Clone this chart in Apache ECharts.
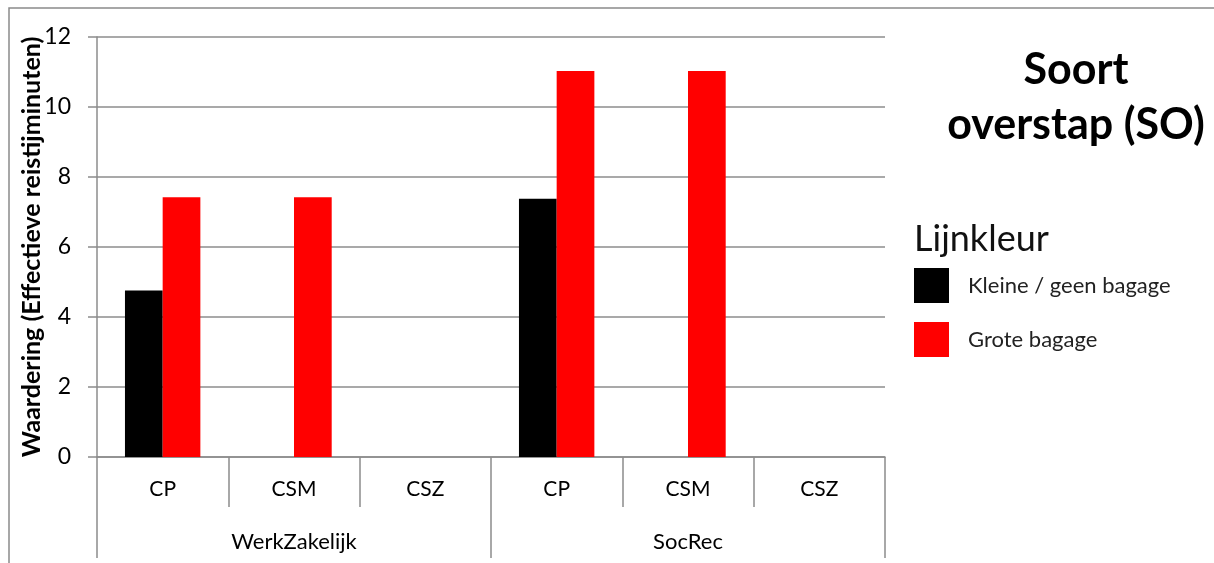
<!DOCTYPE html>
<html>
<head>
<meta charset="utf-8">
<script src="https://cdn.jsdelivr.net/npm/echarts@6/dist/echarts.min.js"></script>
<style>
  html, body { margin: 0; padding: 0; background: #fff; }
  #chart { width: 1214px; height: 563px; }
</style>
</head>
<body>
<div id="chart"></div>
<script>
// Sub-categories (first axis level) and their parent groups (second level)
const subCategories = ['CP', 'CSM', 'CSZ', 'CP', 'CSM', 'CSZ'];
const groups = ['WerkZakelijk', 'SocRec'];

// Valuation per luggage class, in effective travel minutes
const kleineBagage = [4.76, null, null, 7.38, null, null];
const groteBagage = [7.42, 7.42, null, 11.03, 11.03, null];

const yTicks = { min: 0, max: 12, interval: 2 };

const FONT = 'Lato, "Open Sans", sans-serif';
const GRID_COLOR = '#8c8c8c';

const chart = echarts.init(document.getElementById('chart'));
chart.setOption({
  backgroundColor: '#fff',
  animation: false,
  textStyle: { fontFamily: FONT },
  title: [
    {
      text: 'Soort\noverstap (SO)',
      left: 1071,
      top: 38,
      textAlign: 'center',
      textStyle: { fontFamily: FONT, fontSize: 43, fontWeight: 'bold', color: '#000', lineHeight: 55 }
    },
    {
      text: 'Lijnkleur',
      left: 909,
      top: 216,
      textStyle: { fontFamily: FONT, fontSize: 36, fontWeight: 'normal', color: '#111' }
    }
  ],
  legend: {
    orient: 'vertical',
    left: 909,
    top: 263,
    itemWidth: 35,
    itemHeight: 35,
    itemGap: 19,
    icon: 'rect',
    data: ['Kleine / geen bagage', 'Grote bagage'],
    textStyle: { fontFamily: FONT, fontSize: 22, color: '#222', padding: [0, 0, 0, 14] }
  },
  grid: { left: 97, right: 329, top: 37, bottom: 106, containLabel: false },
  xAxis: [
    {
      type: 'category',
      data: subCategories,
      position: 'bottom',
      axisLine: { show: true, lineStyle: { color: GRID_COLOR, width: 1.5 } },
      axisTick: { show: true, length: 50, alignWithLabel: false, lineStyle: { color: GRID_COLOR, width: 1.5 } },
      axisLabel: { margin: 22, fontFamily: FONT, fontSize: 21, color: '#000', interval: 0 }
    },
    {
      type: 'category',
      data: groups,
      position: 'bottom',
      axisLine: { show: false },
      axisTick: { show: true, length: 101, lineStyle: { color: GRID_COLOR, width: 1.5 } },
      axisLabel: { margin: 74, fontFamily: FONT, fontSize: 22, color: '#000', interval: 0 },
      splitLine: { show: false }
    }
  ],
  yAxis: {
    type: 'value',
    min: yTicks.min,
    max: yTicks.max,
    interval: yTicks.interval,
    name: 'Waardering (Effectieve reistijminuten)',
    nameLocation: 'middle',
    nameGap: 53,
    nameMoveOverlap: false,
    nameTextStyle: { fontFamily: FONT, fontSize: 25, fontWeight: 'bold', color: '#000' },
    axisLine: { show: true, lineStyle: { color: GRID_COLOR, width: 1.5 } },
    axisTick: { show: true, length: 9, lineStyle: { color: GRID_COLOR, width: 1.5 } },
    axisLabel: { margin: 26, fontFamily: FONT, fontSize: 23, color: '#000' },
    splitLine: { show: true, lineStyle: { color: GRID_COLOR, width: 1.5 } }
  },
  series: [
    {
      name: 'Kleine / geen bagage',
      type: 'bar',
      xAxisIndex: 0,
      data: kleineBagage,
      barWidth: 37.7,
      barGap: '0%',
      itemStyle: { color: '#000' }
    },
    {
      name: 'Grote bagage',
      type: 'bar',
      xAxisIndex: 0,
      data: groteBagage,
      barWidth: 37.7,
      barGap: '0%',
      itemStyle: { color: '#ff0000' }
    }
  ],
  graphic: [
    {
      type: 'rect',
      silent: true,
      shape: { x: 9, y: 8, width: 1400, height: 800 },
      style: { fill: 'none', stroke: '#8a8a8a', lineWidth: 1.5 }
    }
  ]
});
</script>
</body>
</html>
